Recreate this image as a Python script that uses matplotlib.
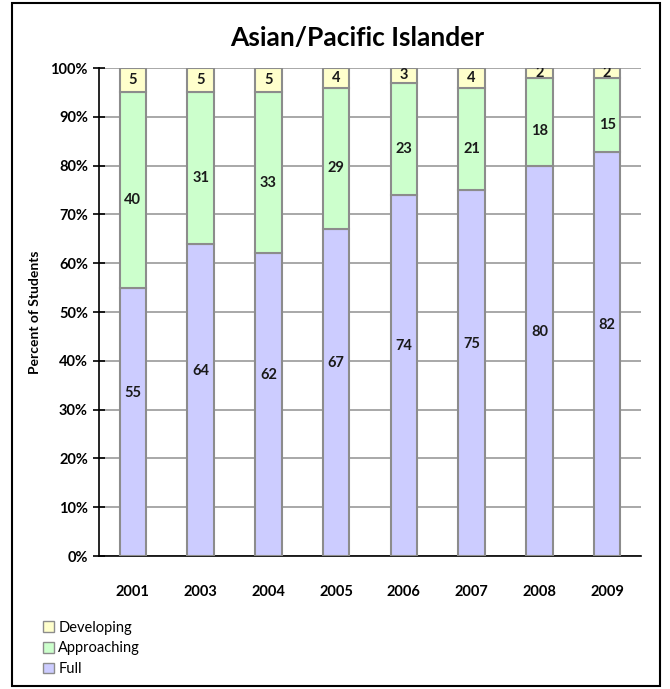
import matplotlib
matplotlib.use('Agg')
import matplotlib.pyplot as plt
import numpy as np
from matplotlib.patches import Patch, Rectangle

# Données
years = ["2001", "2003", "2004", "2005", "2006", "2007", "2008", "2009"]
full = [55, 64, 62, 67, 74, 75, 80, 82]
approaching = [40, 31, 33, 29, 23, 21, 18, 15]
developing = [5, 5, 5, 4, 3, 4, 2, 2]

# Couleurs
FULL_C = "#ccccff"
APPR_C = "#ccffcc"
DEV_C = "#ffffcc"
EDGE_C = "#8c8c8c"
GRID_C = "#999999"

plt.rcParams['font.family'] = ['Lato', 'DejaVu Sans']

W, H = 670, 689
fig = plt.figure(figsize=(W / 100, H / 100), dpi=100)
ax = fig.add_axes([99 / W, 1 - 556 / H, (641 - 99) / W, (556 - 68) / H])

# Normalisation 100 %
f = np.array(full, float)
a = np.array(approaching, float)
d = np.array(developing, float)
tot = f + a + d
fp, ap, dp = f / tot * 100, a / tot * 100, d / tot * 100

x = np.arange(len(years))
bw = 0.39
kw = dict(width=bw, edgecolor=EDGE_C, linewidth=1.5, zorder=3)
ax.bar(x, fp, color=FULL_C, **kw)
ax.bar(x, ap, bottom=fp, color=APPR_C, **kw)
ax.bar(x, dp, bottom=fp + ap, color=DEV_C, **kw)

# Étiquettes
lab = dict(ha='center', va='center', fontsize=10.5, fontweight='bold', color='#1a1a1a', zorder=4)
for i in range(len(years)):
    ax.text(x[i], fp[i] / 2 + 6, str(full[i]), **lab)
    ax.text(x[i], fp[i] + ap[i] / 2 - 2, str(approaching[i]), **lab)
    ax.text(x[i], fp[i] + ap[i] + dp[i] / 2, str(developing[i]), clip_on=True, **lab)

ax.set_xlim(-0.5, len(years) - 0.5)
ax.set_ylim(0, 100)
ax.set_yticks(np.arange(0, 101, 10))
ax.set_yticklabels([f"{v}%" for v in range(0, 101, 10)], fontsize=10.5, fontweight='bold')
ax.set_xticks(x)
ax.set_xticklabels(years, fontsize=10.5, fontweight='bold')
ax.tick_params(axis='x', length=0, pad=21)
ax.tick_params(axis='y', length=8, direction='inout', color='black', width=1.2, pad=4)
ax.yaxis.grid(True, color=GRID_C, linewidth=1.2, zorder=0)
ax.set_axisbelow(True)
for s in ['top', 'right']:
    ax.spines[s].set_visible(False)
ax.spines['left'].set_color('black')
ax.spines['left'].set_linewidth(1.2)
ax.spines['bottom'].set_color('black')
ax.spines['bottom'].set_linewidth(1.2)

ax.set_ylabel("Percent of Students", fontsize=10, fontweight='bold', labelpad=7)
fig.text(357 / W, 1 - 38 / H, "Asian/Pacific Islander",
         ha='center', va='center', fontsize=19, fontweight='bold')

# Légende
handles = [Patch(facecolor=DEV_C, edgecolor=EDGE_C, label="Developing"),
           Patch(facecolor=APPR_C, edgecolor=EDGE_C, label="Approaching"),
           Patch(facecolor=FULL_C, edgecolor=EDGE_C, label="Full")]
fig.legend(handles=handles, loc='upper left', bbox_to_anchor=(37 / W, 1 - 615 / H),
           frameon=False, fontsize=10.5, handlelength=0.75, handleheight=0.75,
           handletextpad=0.3, labelspacing=0.45, borderaxespad=0)

# Cadre extérieur
fig.patches.append(Rectangle((12 / W, 3 / H), (660 - 12) / W, (686 - 3) / H,
                             transform=fig.transFigure, fill=False,
                             edgecolor='black', linewidth=1.5))

fig.savefig("out.png", dpi=100)
